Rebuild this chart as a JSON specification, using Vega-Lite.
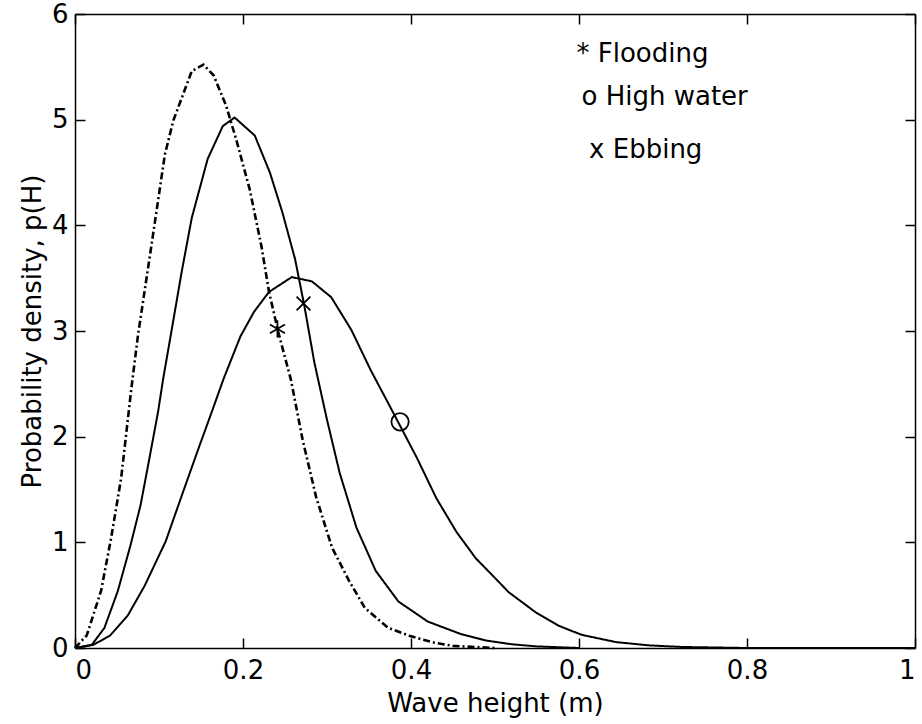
{
  "$schema": "https://vega.github.io/schema/vega-lite/v6.json",
  "width": 840,
  "height": 634,
  "autosize": {"type": "none"},
  "padding": {"left": 75, "top": 14, "right": 7, "bottom": 76},
  "background": "white",
  "config": {
    "view": {"stroke": null},
    "font": "DejaVu Sans",
    "axis": {
      "grid": false,
      "domainColor": "black",
      "domainWidth": 1.5,
      "tickColor": "black",
      "tickWidth": 1.5,
      "tickSize": -10,
      "labelFont": "DejaVu Sans",
      "labelFontSize": 26,
      "labelColor": "black",
      "titleFont": "DejaVu Sans",
      "titleFontSize": 26,
      "titleFontWeight": "normal",
      "titleColor": "black"
    }
  },
  "datasets": {
    "curves": [
      {"s": "A", "h": 0, "p": 0},
      {"s": "A", "h": 0.014, "p": 0.12},
      {"s": "A", "h": 0.031, "p": 0.54},
      {"s": "A", "h": 0.043, "p": 1.04},
      {"s": "A", "h": 0.055, "p": 1.61},
      {"s": "A", "h": 0.067, "p": 2.45},
      {"s": "A", "h": 0.075, "p": 2.96},
      {"s": "A", "h": 0.091, "p": 3.81},
      {"s": "A", "h": 0.107, "p": 4.67},
      {"s": "A", "h": 0.117, "p": 4.99},
      {"s": "A", "h": 0.139, "p": 5.46},
      {"s": "A", "h": 0.153, "p": 5.52},
      {"s": "A", "h": 0.165, "p": 5.42},
      {"s": "A", "h": 0.18, "p": 5.13},
      {"s": "A", "h": 0.192, "p": 4.81},
      {"s": "A", "h": 0.208, "p": 4.34},
      {"s": "A", "h": 0.222, "p": 3.8},
      {"s": "A", "h": 0.231, "p": 3.37},
      {"s": "A", "h": 0.242, "p": 2.99},
      {"s": "A", "h": 0.257, "p": 2.54},
      {"s": "A", "h": 0.271, "p": 1.97},
      {"s": "A", "h": 0.287, "p": 1.43},
      {"s": "A", "h": 0.306, "p": 0.95},
      {"s": "A", "h": 0.326, "p": 0.64},
      {"s": "A", "h": 0.345, "p": 0.38},
      {"s": "A", "h": 0.373, "p": 0.19},
      {"s": "A", "h": 0.4, "p": 0.11},
      {"s": "A", "h": 0.428, "p": 0.05},
      {"s": "A", "h": 0.45, "p": 0.02},
      {"s": "A", "h": 0.5, "p": 0},
      {"s": "B", "h": 0, "p": 0},
      {"s": "B", "h": 0.02, "p": 0.03},
      {"s": "B", "h": 0.035, "p": 0.19},
      {"s": "B", "h": 0.051, "p": 0.54},
      {"s": "B", "h": 0.066, "p": 0.97},
      {"s": "B", "h": 0.078, "p": 1.35},
      {"s": "B", "h": 0.088, "p": 1.77},
      {"s": "B", "h": 0.099, "p": 2.24},
      {"s": "B", "h": 0.105, "p": 2.55},
      {"s": "B", "h": 0.114, "p": 2.96},
      {"s": "B", "h": 0.127, "p": 3.56},
      {"s": "B", "h": 0.139, "p": 4.07},
      {"s": "B", "h": 0.158, "p": 4.63},
      {"s": "B", "h": 0.176, "p": 4.94},
      {"s": "B", "h": 0.19, "p": 5.02},
      {"s": "B", "h": 0.214, "p": 4.85},
      {"s": "B", "h": 0.232, "p": 4.5},
      {"s": "B", "h": 0.247, "p": 4.12},
      {"s": "B", "h": 0.262, "p": 3.68},
      {"s": "B", "h": 0.273, "p": 3.24},
      {"s": "B", "h": 0.285, "p": 2.7},
      {"s": "B", "h": 0.3, "p": 2.16},
      {"s": "B", "h": 0.315, "p": 1.66},
      {"s": "B", "h": 0.335, "p": 1.14},
      {"s": "B", "h": 0.358, "p": 0.73},
      {"s": "B", "h": 0.385, "p": 0.44},
      {"s": "B", "h": 0.42, "p": 0.25},
      {"s": "B", "h": 0.46, "p": 0.13},
      {"s": "B", "h": 0.49, "p": 0.07},
      {"s": "B", "h": 0.52, "p": 0.035},
      {"s": "B", "h": 0.55, "p": 0.015},
      {"s": "B", "h": 0.6, "p": 0},
      {"s": "C", "h": 0, "p": 0},
      {"s": "C", "h": 0.022, "p": 0.03},
      {"s": "C", "h": 0.042, "p": 0.12},
      {"s": "C", "h": 0.063, "p": 0.31},
      {"s": "C", "h": 0.083, "p": 0.59},
      {"s": "C", "h": 0.108, "p": 1.01},
      {"s": "C", "h": 0.127, "p": 1.44},
      {"s": "C", "h": 0.148, "p": 1.91},
      {"s": "C", "h": 0.164, "p": 2.26},
      {"s": "C", "h": 0.177, "p": 2.55},
      {"s": "C", "h": 0.197, "p": 2.95},
      {"s": "C", "h": 0.213, "p": 3.18},
      {"s": "C", "h": 0.231, "p": 3.37},
      {"s": "C", "h": 0.258, "p": 3.51},
      {"s": "C", "h": 0.282, "p": 3.47},
      {"s": "C", "h": 0.305, "p": 3.32},
      {"s": "C", "h": 0.329, "p": 3.01},
      {"s": "C", "h": 0.352, "p": 2.63},
      {"s": "C", "h": 0.376, "p": 2.27},
      {"s": "C", "h": 0.407, "p": 1.8},
      {"s": "C", "h": 0.43, "p": 1.42},
      {"s": "C", "h": 0.454, "p": 1.1},
      {"s": "C", "h": 0.477, "p": 0.85},
      {"s": "C", "h": 0.504, "p": 0.63},
      {"s": "C", "h": 0.516, "p": 0.53},
      {"s": "C", "h": 0.548, "p": 0.34},
      {"s": "C", "h": 0.576, "p": 0.21},
      {"s": "C", "h": 0.603, "p": 0.125},
      {"s": "C", "h": 0.644, "p": 0.056},
      {"s": "C", "h": 0.683, "p": 0.025},
      {"s": "C", "h": 0.722, "p": 0.01},
      {"s": "C", "h": 0.8, "p": 0},
      {"s": "C", "h": 1.0, "p": 0}
    ],
    "markers": [
      {"m": "Flooding", "h": 0.241, "p": 3.02},
      {"m": "Ebbing", "h": 0.272, "p": 3.26},
      {"m": "High water", "h": 0.387, "p": 2.14}
    ],
    "legend": [
      {"label": "* Flooding", "h": 0.597, "p": 5.55},
      {"label": "o High water", "h": 0.603, "p": 5.14},
      {"label": "x Ebbing", "h": 0.612, "p": 4.64}
    ]
  },
  "layer": [
    {
      "data": {"name": "curves"},
      "mark": {"type": "line", "color": "black"},
      "encoding": {
        "x": {
          "field": "h", "type": "quantitative",
          "scale": {"domain": [0, 1], "nice": false, "zero": false},
          "axis": {"orient": "bottom", "values": [0, 0.2, 0.4, 0.6, 0.8, 1], "format": "~g", "title": "Wave height (m)", "labelPadding": 19, "titlePadding": 7}
        },
        "y": {
          "field": "p", "type": "quantitative",
          "scale": {"domain": [0, 6], "nice": false},
          "axis": {"orient": "left", "values": [0, 1, 2, 3, 4, 5, 6], "format": "~g", "title": "Probability density, p(H)", "labelPadding": 17, "titlePadding": 6}
        },
        "strokeDash": {
          "field": "s", "type": "nominal",
          "scale": {"domain": ["A", "B", "C"], "range": [[7, 3, 2, 3], [1, 0], [1, 0]]},
          "legend": null
        },
        "strokeWidth": {
          "field": "s", "type": "nominal",
          "scale": {"type": "ordinal", "domain": ["A", "B", "C"], "range": [2.6, 2, 2]},
          "legend": null
        }
      }
    },
    {
      "data": {"name": "markers"},
      "mark": {"type": "point", "filled": false, "stroke": "black", "strokeWidth": 1.8, "size": 300, "opacity": 1},
      "encoding": {
        "x": {
          "field": "h", "type": "quantitative",
          "axis": {"orient": "top", "values": [0, 0.2, 0.4, 0.6, 0.8, 1], "labels": false, "title": null}
        },
        "y": {
          "field": "p", "type": "quantitative",
          "axis": {"orient": "right", "values": [0, 1, 2, 3, 4, 5, 6], "labels": false, "title": null}
        },
        "shape": {
          "field": "m", "type": "nominal",
          "scale": {
            "domain": ["Flooding", "Ebbing", "High water"],
            "range": ["M0,-1L0,1M-0.87,-0.5L0.87,0.5M-0.87,0.5L0.87,-0.5", "M-0.8,-0.8L0.8,0.8M-0.8,0.8L0.8,-0.8", "circle"]
          },
          "legend": null
        }
      }
    },
    {
      "data": {"name": "legend"},
      "mark": {"type": "text", "align": "left", "baseline": "alphabetic", "fontSize": 26, "font": "DejaVu Sans", "color": "black"},
      "encoding": {
        "x": {"field": "h", "type": "quantitative", "axis": null},
        "y": {"field": "p", "type": "quantitative", "axis": null},
        "text": {"field": "label", "type": "nominal"}
      }
    }
  ],
  "resolve": {"axis": {"x": "independent", "y": "independent"}}
}
